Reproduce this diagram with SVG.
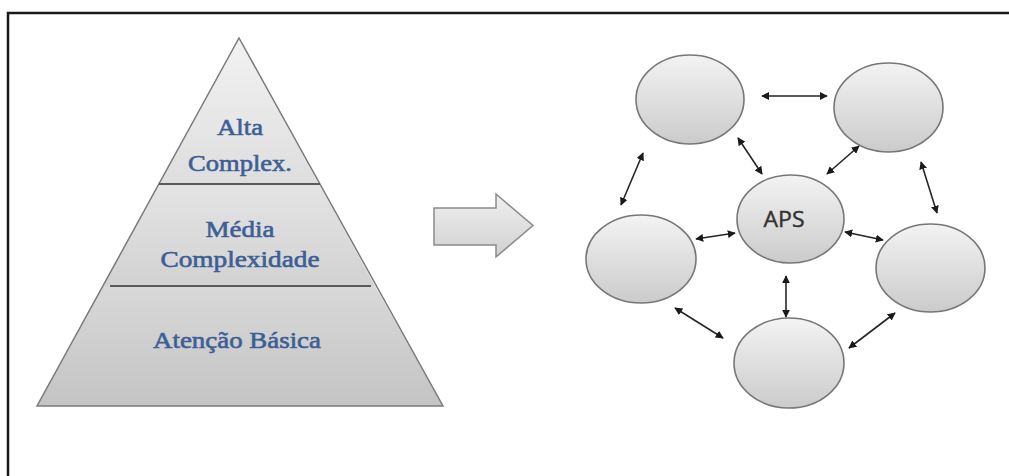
<svg xmlns="http://www.w3.org/2000/svg" width="1009" height="476" viewBox="0 0 1009 476">
<defs>
<linearGradient id="gTop" x1="0" y1="0" x2="0" y2="1"><stop offset="0" stop-color="#f2f2f2"/><stop offset="1" stop-color="#dedede"/></linearGradient>
<linearGradient id="gMid" x1="0" y1="0" x2="0" y2="1"><stop offset="0" stop-color="#e4e4e4"/><stop offset="1" stop-color="#d2d2d2"/></linearGradient>
<linearGradient id="gBot" x1="0" y1="0" x2="0" y2="1"><stop offset="0" stop-color="#d8d8d8"/><stop offset="1" stop-color="#c4c4c4"/></linearGradient>
<linearGradient id="gEl" x1="0" y1="0" x2="0" y2="1"><stop offset="0" stop-color="#f3f3f3"/><stop offset="1" stop-color="#cbcbcb"/></linearGradient>
<linearGradient id="gArr" x1="0" y1="0" x2="0" y2="1"><stop offset="0" stop-color="#f0f0f0"/><stop offset="1" stop-color="#d0d0d0"/></linearGradient>
<marker id="ah" viewBox="0 0 10 10" refX="9" refY="5" markerWidth="5" markerHeight="5" orient="auto-start-reverse" markerUnits="strokeWidth"><path d="M0,0 L10,5 L0,10 z" fill="#1a1a1a"/></marker>
</defs>
<style>
.ell{fill:url(#gEl);stroke:#777777;stroke-width:1.6}
.con{stroke:#262626;stroke-width:1.6;fill:none;marker-start:url(#ah);marker-end:url(#ah)}
.pt{font-family:"Liberation Serif","Times New Roman",serif;font-size:23px;fill:#3d5f95;stroke:#3d5f95;stroke-width:0.6;text-anchor:middle}
.div{stroke:#5a5a5a;stroke-width:2}
</style>
<rect width="1009" height="476" fill="#ffffff"/>
<g id="frame" fill="none" stroke="#1a1a1a" stroke-width="2.5">
<path d="M8,476 L8,13 L1009,13"/>
</g>
<g id="pyramid">
<polygon points="239,38 159,184 319,184" fill="url(#gTop)"/>
<polygon points="159,184 319,184 375,286 103,286" fill="url(#gMid)"/>
<polygon points="103,286 375,286 443,406 37,406" fill="url(#gBot)"/>
<polygon points="239,38 443,406 37,406" fill="none" stroke="#7a7a7a" stroke-width="1.5"/>
<line class="div" x1="159" y1="184" x2="320" y2="184"/>
<line class="div" x1="110" y1="286" x2="371" y2="286"/>
<text class="pt" x="240" y="135" textLength="46" lengthAdjust="spacingAndGlyphs">Alta</text>
<text class="pt" x="240" y="171" textLength="104" lengthAdjust="spacingAndGlyphs">Complex.</text>
<text class="pt" x="240" y="237" textLength="69" lengthAdjust="spacingAndGlyphs">Média</text>
<text class="pt" x="240" y="267" textLength="159" lengthAdjust="spacingAndGlyphs">Complexidade</text>
<text class="pt" x="237" y="348" textLength="168" lengthAdjust="spacingAndGlyphs">Atenção Básica</text>
</g>
<g id="bigarrow">
<polygon points="434,208 496,208 496,194 533,225.5 496,257 496,245 434,245" fill="url(#gArr)" stroke="#8a8a8a" stroke-width="1.5"/>
</g>
<g id="node-topleft"><ellipse class="ell" cx="690" cy="99.5" rx="54" ry="44.5"/></g>
<g id="node-topright"><ellipse class="ell" cx="888.5" cy="107.5" rx="54.5" ry="44.5"/></g>
<g id="node-aps"><ellipse class="ell" cx="790.5" cy="219" rx="53.5" ry="44"/>
<text x="784" y="227" font-family="'Open Sans','Liberation Sans',sans-serif" font-size="21" fill="#333333" stroke="#333333" stroke-width="0.4" text-anchor="middle" textLength="41" lengthAdjust="spacingAndGlyphs">APS</text></g>
<g id="node-left"><ellipse class="ell" cx="641" cy="259" rx="55" ry="44"/></g>
<g id="node-right"><ellipse class="ell" cx="930.5" cy="268" rx="54.5" ry="44"/></g>
<g id="node-bottom"><ellipse class="ell" cx="789" cy="363" rx="55" ry="45"/></g>
<g id="connectors">
<line class="con" x1="762" y1="96" x2="827" y2="96"/>
<line class="con" x1="738" y1="138" x2="762" y2="174"/>
<line class="con" x1="859" y1="146" x2="827" y2="174"/>
<line class="con" x1="643" y1="153" x2="621" y2="205"/>
<line class="con" x1="921" y1="162" x2="937" y2="213"/>
<line class="con" x1="696" y1="239" x2="735" y2="233"/>
<line class="con" x1="845" y1="232" x2="883" y2="240"/>
<line class="con" x1="786" y1="276" x2="786" y2="317"/>
<line class="con" x1="675" y1="308" x2="723" y2="338"/>
<line class="con" x1="895" y1="313" x2="849" y2="348"/>
</g>
</svg>
